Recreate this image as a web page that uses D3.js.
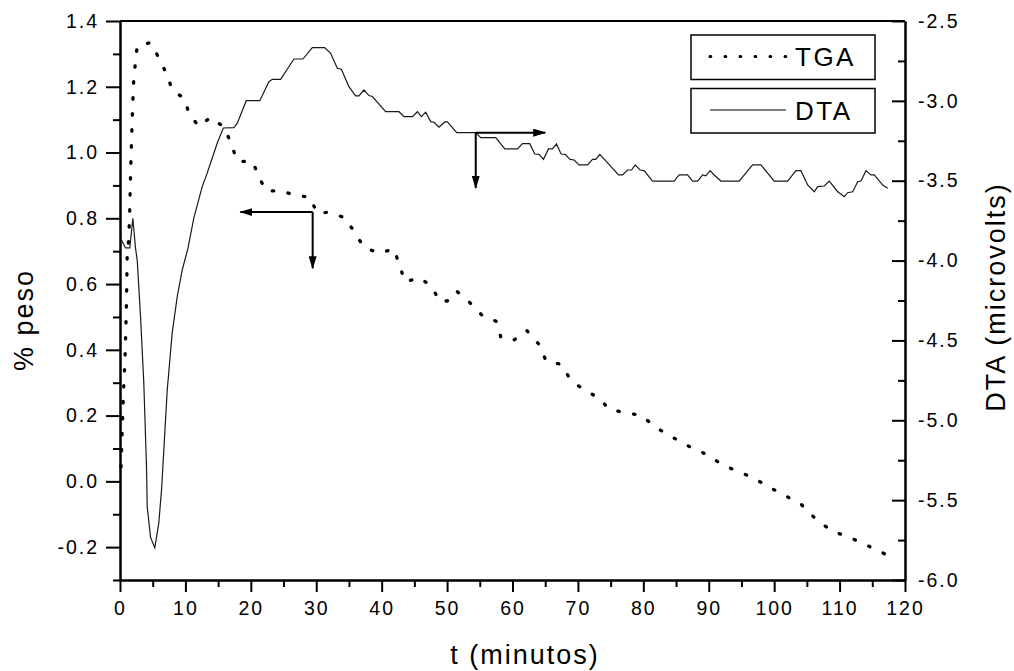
<!DOCTYPE html>
<html>
<head>
<meta charset="utf-8">
<script src="https://cdn.jsdelivr.net/npm/d3@7"></script>
<style>
  body { margin: 0; background: #fff; }
  .chart text { font-family: "Liberation Sans", Arial, sans-serif; fill: #000; }
  .tick text { font-size: 19.5px; letter-spacing: 2px; }
  .axis path, .axis line { stroke: #000; stroke-width: 2; }
  .axis-text { font-size: 27px; letter-spacing: 2px; }
  .legend-text { font-size: 26px; letter-spacing: 2.5px; }
</style>
</head>
<body>
<div class="chart"></div>
<script>
// values
// TGA (% peso, left axis)
var tgaTime = [0.15, 0.49, 0.80, 0.99, 1.10, 1.35, 1.50, 1.61, 1.76, 1.91, 2.11, 2.37, 2.63, 4.56, 4.82,
  5.94, 7.22, 7.98, 9.91, 10.52, 12.05, 13.84, 15.98, 17.01, 17.93, 20.31, 21.23, 22.41, 24.66, 26.85,
  28.27, 29.03, 30.16, 31.69, 34.39, 35.87, 37.29, 39.59, 41.88, 42.75, 43.56, 45.86, 47.65, 48.92,
  50.05, 51.43, 53.35, 55.40, 57.48, 58.20, 60.04, 62.18, 64.12, 65.13, 67.43, 68.91, 71.05, 73.24,
  74.77, 77.17, 79.66, 81.91, 84.56, 87.11, 89.56, 91.75, 94.15, 96.70, 99.00, 101.65, 104.09,
  106.23, 108.79, 111.48, 114.14, 116.94];
var tgaValue = [0.044, 0.247, 0.393, 0.542, 0.688, 0.740, 0.834, 0.932, 1.032, 1.129, 1.227, 1.275, 1.324, 1.334, 1.331,
  1.287, 1.236, 1.190, 1.163, 1.119, 1.079, 1.107, 1.076, 1.025, 0.974, 0.972, 0.924, 0.883, 0.884, 0.869,
  0.866, 0.864, 0.815, 0.818, 0.802, 0.757, 0.712, 0.694, 0.707, 0.656, 0.607, 0.619, 0.592, 0.546,
  0.549, 0.579, 0.546, 0.504, 0.487, 0.440, 0.427, 0.459, 0.415, 0.366, 0.356, 0.308, 0.276, 0.254,
  0.219, 0.209, 0.201, 0.164, 0.133, 0.105, 0.083, 0.055, 0.032, 0.012, -0.015, -0.043, -0.069,
  -0.112, -0.151, -0.170, -0.194, -0.221];

// DTA (microvolts, right axis)
var dtaTime = [0.08, 0.84, 1.50, 1.96, 2.37, 2.63, 3.14, 3.64, 4.05, 4.16, 4.67, 5.32, 5.93, 6.35, 6.70,
  7.22, 7.98, 8.75, 9.51, 10.37, 11.29, 12.57, 13.34, 14.10, 14.87, 15.79, 17.41, 17.93, 19.30, 21.38,
  22.76, 23.28, 24.55, 26.59, 27.96, 29.40, 31.28, 32.20, 33.22, 33.84, 35.00, 36.02, 36.53, 37.29,
  38.06, 38.58, 40.61, 42.65, 43.41, 44.70, 45.46, 46.07, 46.73, 47.50, 48.00, 48.76, 49.64, 50.05,
  51.47, 54.38, 55.14, 57.44, 58.82, 60.76, 61.52, 62.64, 63.40, 64.06, 64.73, 65.50, 66.11, 66.72,
  67.43, 68.04, 68.80, 69.42, 70.18, 71.47, 72.23, 72.73, 73.35, 76.21, 76.82, 77.58, 78.20, 78.75,
  79.51, 80.12, 81.41, 84.71, 85.48, 86.76, 87.53, 88.29, 89.06, 89.56, 90.22, 90.83, 91.85, 94.65,
  96.70, 97.97, 100.01, 102.06, 103.33, 104.09, 105.12, 106.13, 106.65, 107.66, 108.43, 109.71,
  110.72, 111.24, 112.00, 112.77, 113.27, 114.03, 114.80, 115.30, 116.59, 117.36];
var dtaValue = [-3.858, -3.921, -3.921, -3.735, -3.921, -3.996, -4.351, -4.768, -5.291, -5.541, -5.733, -5.798, -5.643, -5.436, -5.186,
  -4.810, -4.453, -4.226, -4.059, -3.927, -3.733, -3.537, -3.451, -3.358, -3.264, -3.170, -3.168, -3.140, -2.999, -2.999,
  -2.880, -2.865, -2.865, -2.738, -2.738, -2.667, -2.667, -2.702, -2.796, -2.802, -2.911, -2.969, -2.969, -2.932,
  -2.967, -2.973, -3.068, -3.068, -3.099, -3.099, -3.068, -3.099, -3.071, -3.130, -3.134, -3.165, -3.132, -3.132,
  -3.199, -3.199, -3.230, -3.230, -3.301, -3.301, -3.268, -3.268, -3.333, -3.335, -3.366, -3.301, -3.301, -3.270,
  -3.333, -3.335, -3.366, -3.370, -3.401, -3.401, -3.366, -3.366, -3.335, -3.464, -3.464, -3.433, -3.433, -3.401,
  -3.433, -3.437, -3.502, -3.502, -3.464, -3.464, -3.502, -3.502, -3.464, -3.470, -3.437, -3.464, -3.502, -3.502,
  -3.401, -3.401, -3.502, -3.502, -3.437, -3.437, -3.527, -3.569, -3.537, -3.533, -3.502, -3.569,
  -3.600, -3.575, -3.569, -3.506, -3.502, -3.437, -3.464, -3.464, -3.527, -3.547];

// tick labels
var xTicks = [0, 10, 20, 30, 40, 50, 60, 70, 80, 90, 100, 110, 120];
var xMinorTicks = [5, 15, 25, 35, 45, 55, 65, 75, 85, 95, 105, 115];
var leftTicks = [-0.2, 0.0, 0.2, 0.4, 0.6, 0.8, 1.0, 1.2, 1.4];
var leftMinorTicks = [-0.3, -0.1, 0.1, 0.3, 0.5, 0.7, 0.9, 1.1, 1.3];
var rightTicks = [-6.0, -5.5, -5.0, -4.5, -4.0, -3.5, -3.0, -2.5];
var rightMinorTicks = [-5.75, -5.25, -4.75, -4.25, -3.75, -3.25, -2.75];

// arrow annotations: corner [t, value], then where the arrows point
var tgaArrow = {t: 29.45, v: 0.819, toT: 18.4, toV: 0.648};       // left axis
var dtaArrow = {t: 54.38, v: -3.199, toT: 65.0, toV: -3.545};     // right axis

var seriesNames = ["TGA", "DTA"];

//set up chart
var svgWidth = 1014;
var svgHeight = 671;
var margin = {top: 21, right: 109, bottom: 91, left: 120};
var width = svgWidth - margin.left - margin.right;
var height = svgHeight - margin.top - margin.bottom;

var svg = d3.select(".chart")
    .append("svg")
    .attr("width", svgWidth)
    .attr("height", svgHeight);

var defs = svg.append("defs");
defs.append("marker")
    .attr("id", "head")
    .attr("markerUnits", "userSpaceOnUse")
    .attr("markerWidth", 13)
    .attr("markerHeight", 8)
    .attr("refX", 12)
    .attr("refY", 4)
    .attr("orient", "auto")
    .append("path")
    .attr("d", "M0,0L13,4L0,8Z")
    .attr("fill", "#000");

var chart = svg.append("g")
    .attr("transform", "translate(" + margin.left + "," + margin.top + ")");

var xScale = d3.scaleLinear().domain([0, 120]).range([0, width]);
var yLeft = d3.scaleLinear().domain([-0.3, 1.4]).range([height, 0]);
var yRight = d3.scaleLinear().domain([-6.0, -2.5]).range([height, 0]);

var fmt1 = function(d) { return d.toFixed(1); };

// minor ticks first (no labels)
chart.append("g").attr("class", "axis")
    .attr("transform", "translate(0," + height + ")")
    .call(d3.axisBottom(xScale).tickValues(xMinorTicks).tickSize(7).tickSizeOuter(0).tickFormat(""));
chart.append("g").attr("class", "axis")
    .call(d3.axisLeft(yLeft).tickValues(leftMinorTicks).tickSize(7).tickSizeOuter(0).tickFormat(""));
chart.append("g").attr("class", "axis")
    .attr("transform", "translate(" + width + ",0)")
    .call(d3.axisRight(yRight).tickValues(rightMinorTicks).tickSize(-7).tickSizeOuter(0).tickFormat(""));

// major ticks
chart.append("g").attr("class", "axis")
    .attr("transform", "translate(0," + height + ")")
    .call(d3.axisBottom(xScale).tickValues(xTicks).tickSize(12).tickSizeOuter(0).tickPadding(9));
chart.append("g").attr("class", "axis")
    .call(d3.axisLeft(yLeft).tickValues(leftTicks).tickFormat(fmt1).tickSize(14).tickSizeOuter(0).tickPadding(7));
chart.append("g").attr("class", "axis")
    .attr("transform", "translate(" + width + ",0)")
    .call(d3.axisRight(yRight).tickValues(rightTicks).tickFormat(fmt1).tickSize(-13).tickSizeOuter(0).tickPadding(13));

chart.selectAll(".tick text").attr("font-family", null);
chart.selectAll(".axis").attr("font-size", null);

// top frame line
chart.append("line")
    .attr("x1", 0).attr("x2", width)
    .attr("y1", 0).attr("y2", 0)
    .attr("stroke", "#000").attr("stroke-width", 2);

// series
var tgaData = tgaTime.map(function(t, i) { return {t: t, v: tgaValue[i]}; });
var dtaData = dtaTime.map(function(t, i) { return {t: t, v: dtaValue[i]}; });

var tgaLine = d3.line()
    .x(function(d) { return xScale(d.t); })
    .y(function(d) { return yLeft(d.v); });
var dtaLine = d3.line()
    .x(function(d) { return xScale(d.t); })
    .y(function(d) { return yRight(d.v); });

chart.append("path")
    .datum(dtaData)
    .attr("d", dtaLine)
    .attr("fill", "none")
    .attr("stroke", "#1a1a1a")
    .attr("stroke-width", 1.2);

chart.append("path")
    .datum(tgaData)
    .attr("d", tgaLine)
    .attr("fill", "none")
    .attr("stroke", "#000")
    .attr("stroke-width", 3.3)
    .attr("stroke-linecap", "round")
    .attr("stroke-dasharray", "1.4,14.6");

// arrows
function arrow(x1, y1, x2, y2) {
    chart.append("line")
        .attr("x1", x1).attr("y1", y1)
        .attr("x2", x2).attr("y2", y2)
        .attr("stroke", "#000")
        .attr("stroke-width", 2)
        .attr("marker-end", "url(#head)");
}
arrow(xScale(tgaArrow.t), yLeft(tgaArrow.v), xScale(tgaArrow.toT), yLeft(tgaArrow.v));
arrow(xScale(tgaArrow.t), yLeft(tgaArrow.v), xScale(tgaArrow.t), yLeft(tgaArrow.toV));
arrow(xScale(dtaArrow.t), yRight(dtaArrow.v), xScale(dtaArrow.toT), yRight(dtaArrow.v));
arrow(xScale(dtaArrow.t), yRight(dtaArrow.v), xScale(dtaArrow.t), yRight(dtaArrow.toV));

// legend
var legend = svg.append("g").attr("transform", "translate(691,35)");
seriesNames.forEach(function(name, i) {
    var g = legend.append("g").attr("transform", "translate(0," + (i * 53.5) + ")");
    g.append("rect")
        .attr("width", 184).attr("height", 44.5)
        .attr("fill", "#fff")
        .attr("stroke", "#000")
        .attr("stroke-width", 1.5);
    g.append("line")
        .attr("x1", 19).attr("x2", 95)
        .attr("y1", 21.5).attr("y2", 21.5)
        .attr("stroke", "#000")
        .attr("stroke-width", i === 0 ? 3 : 1.2)
        .attr("stroke-linecap", i === 0 ? "round" : "butt")
        .attr("stroke-dasharray", i === 0 ? "0.8,14.2" : null);
    g.append("text")
        .attr("class", "legend-text")
        .attr("x", 104)
        .attr("y", 31)
        .text(name);
});

// axis titles
svg.append("text")
    .attr("class", "axis-text")
    .attr("text-anchor", "middle")
    .attr("x", 525)
    .attr("y", 664)
    .text("t (minutos)");

svg.append("text")
    .attr("class", "axis-text")
    .attr("text-anchor", "middle")
    .attr("transform", "translate(33,320) rotate(-90)")
    .text("% peso");

svg.append("text")
    .attr("class", "axis-text")
    .attr("text-anchor", "middle")
    .attr("transform", "translate(1005,297) rotate(-90)")
    .text("DTA (microvolts)");
</script>
</body>
</html>
